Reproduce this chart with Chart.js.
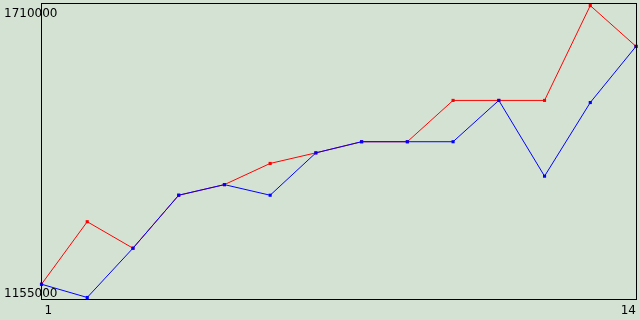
<!DOCTYPE html>
<html lang="en">
<head>
    <meta charset="UTF-8" />
    <title>Line Chart</title>
    <script src="https://cdn.jsdelivr.net/npm/chart.js"></script>
    <style>
        html, body { margin: 0; padding: 0; background: #d4e2d4; }
        canvas { display: block; }
    </style>
</head>
<body>

    <canvas id="lineChart" width="640" height="320"></canvas>

    <script>
        // data
        const categories = ['1', '2', '3', '4', '5', '6', '7', '8', '9', '10', '11', '12', '13', '14'];
        const redValues = [1181000, 1299000, 1249000, 1349000, 1369000, 1409000, 1429000, 1450000, 1450000, 1528000, 1528000, 1528000, 1707000, 1630000];
        const blueValues = [1181000, 1156000, 1249000, 1349000, 1369000, 1349000, 1429000, 1450000, 1450000, 1450000, 1528000, 1385000, 1524000, 1630000];
        const yMin = 1155000;
        const yMax = 1710000;
        const yTickLabels = ['1710000', '1155000'];
        const xTickLabels = ['1', '14'];

        // frame + the four axis labels
        const framePlugin = {
            id: 'frame',
            afterDraw(chart) {
                const { ctx, chartArea, scales } = chart;
                const left = Math.round(chartArea.left) - 1;
                const right = Math.round(chartArea.right);
                const top = Math.round(chartArea.top) - 1;
                const bottom = Math.round(chartArea.bottom) + 1;

                ctx.save();
                ctx.strokeStyle = '#000';
                ctx.lineWidth = 1;
                ctx.strokeRect(left + 0.5, top + 0.5, right - left, bottom - top);

                ctx.fillStyle = '#000';
                ctx.font = '12px "DejaVu Sans"';
                ctx.textAlign = 'left';
                ctx.textBaseline = 'alphabetic';
                ctx.fillText(yTickLabels[0], 4, scales.y.getPixelForValue(yMax) + 13);
                ctx.fillText(yTickLabels[1], 4, scales.y.getPixelForValue(yMin) - 1);

                ctx.fillText(xTickLabels[0], scales.x.getPixelForValue(0) + 3, 314);
                ctx.textAlign = 'right';
                ctx.fillText(xTickLabels[1], scales.x.getPixelForValue(categories.length - 1), 314);
                ctx.restore();
            }
        };

        new Chart(document.getElementById('lineChart'), {
            type: 'line',
            data: {
                labels: categories,
                datasets: [
                    {
                        label: 'Blue',
                        data: blueValues,
                        borderColor: '#0000ff',
                        backgroundColor: '#0000ff',
                        borderWidth: 1,
                        pointStyle: 'rect',
                        pointRadius: 2.2,
                        pointBorderWidth: 0,
                        tension: 0,
                        clip: false
                    },
                    {
                        label: 'Red',
                        data: redValues,
                        borderColor: '#ff0000',
                        backgroundColor: '#ff0000',
                        borderWidth: 1,
                        pointStyle: 'rect',
                        pointRadius: 2.2,
                        pointBorderWidth: 0,
                        tension: 0,
                        clip: false
                    }
                ]
            },
            options: {
                responsive: false,
                animation: false,
                layout: {
                    padding: { left: 41.5, right: 1.5, top: 1, bottom: 22 }
                },
                plugins: {
                    legend: { display: false },
                    tooltip: { enabled: false }
                },
                scales: {
                    x: { display: false, offset: false },
                    y: { display: false, min: yMin, max: yMax }
                }
            },
            plugins: [framePlugin]
        });
    </script>

</body>
</html>
